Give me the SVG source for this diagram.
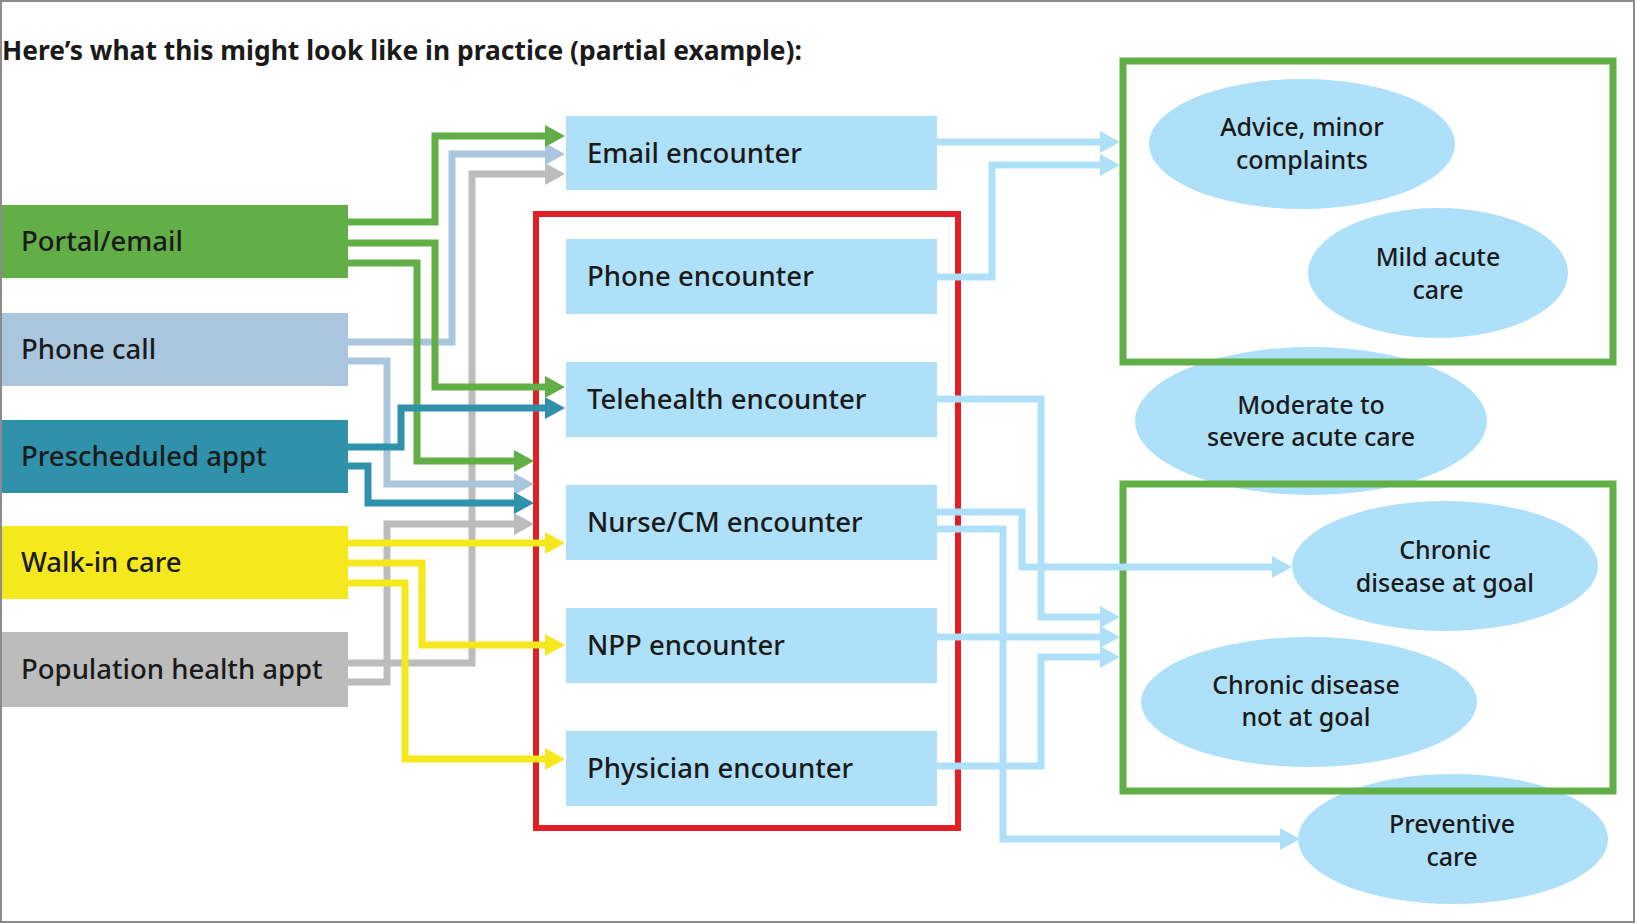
<svg xmlns="http://www.w3.org/2000/svg" width="1637" height="924" viewBox="0 0 1637 924">
<style>
  .t { font-family: "Noto Sans", "Liberation Sans", sans-serif; fill: #1a1a1a; font-weight: 500; }
  .title { font-size: 26px; font-weight: 700; }
  .lbl { font-size: 27.5px; }
  .ell { font-size: 25px; text-anchor: middle; }
  .c { fill: none; stroke-width: 7; stroke-linejoin: miter; }
  .mid { fill: #aee1f9; }
</style>
<defs>
  <marker id="aG" markerUnits="userSpaceOnUse" markerWidth="22" markerHeight="24" refX="2" refY="11" orient="auto"><path d="M0,0 L20,11 L0,22 z" fill="#62ae47"/></marker>
  <marker id="aB" markerUnits="userSpaceOnUse" markerWidth="22" markerHeight="24" refX="2" refY="11" orient="auto"><path d="M0,0 L20,11 L0,22 z" fill="#a9c6de"/></marker>
  <marker id="aT" markerUnits="userSpaceOnUse" markerWidth="22" markerHeight="24" refX="2" refY="11" orient="auto"><path d="M0,0 L20,11 L0,22 z" fill="#2f91aa"/></marker>
  <marker id="aY" markerUnits="userSpaceOnUse" markerWidth="22" markerHeight="24" refX="2" refY="11" orient="auto"><path d="M0,0 L20,11 L0,22 z" fill="#f5e81c"/></marker>
  <marker id="aR" markerUnits="userSpaceOnUse" markerWidth="22" markerHeight="24" refX="2" refY="11" orient="auto"><path d="M0,0 L20,11 L0,22 z" fill="#bdbcbd"/></marker>
  <marker id="aL" markerUnits="userSpaceOnUse" markerWidth="22" markerHeight="24" refX="2" refY="11" orient="auto"><path d="M0,0 L20,11 L0,22 z" fill="#aee1f9"/></marker>
</defs>
<rect x="0" y="0" width="1637" height="924" fill="#ffffff"/>
<rect x="1" y="1" width="1633" height="921" fill="none" stroke="#8c8c8c" stroke-width="2"/>

<text class="t title" x="2" y="60" textLength="800" lengthAdjust="spacingAndGlyphs">Here’s what this might look like in practice (partial example):</text>

<!-- outcome ellipses -->
<g id="advice"><ellipse cx="1302" cy="144" rx="153" ry="65" class="mid"/><text class="t ell" x="1302" y="136">Advice, minor</text><text class="t ell" x="1302" y="169">complaints</text></g>
<g id="mild"><ellipse cx="1438" cy="273" rx="130" ry="65" class="mid"/><text class="t ell" x="1438" y="266">Mild acute</text><text class="t ell" x="1438" y="299">care</text></g>
<g id="moderate"><ellipse cx="1311" cy="421" rx="176" ry="74" class="mid"/><text class="t ell" x="1311" y="414">Moderate to</text><text class="t ell" x="1311" y="446">severe acute care</text></g>
<g id="chronic-goal"><ellipse cx="1445" cy="566" rx="153" ry="65" class="mid"/><text class="t ell" x="1445" y="559">Chronic</text><text class="t ell" x="1445" y="592">disease at goal</text></g>
<g id="chronic-notgoal"><ellipse cx="1309" cy="702" rx="168" ry="65" class="mid"/><text class="t ell" x="1306" y="694">Chronic disease</text><text class="t ell" x="1306" y="726">not at goal</text></g>
<g id="preventive"><ellipse cx="1453" cy="839" rx="155" ry="65" class="mid"/><text class="t ell" x="1452" y="833">Preventive</text><text class="t ell" x="1452" y="866">care</text></g>

<!-- grouping boxes -->
<g id="group-acute"><rect x="1123" y="61" width="490" height="301" fill="none" stroke="#62ae47" stroke-width="7"/></g>
<g id="group-chronic"><rect x="1123" y="484" width="490" height="307" fill="none" stroke="#62ae47" stroke-width="7"/></g>
<g id="group-team"><rect x="536" y="214" width="422" height="614" fill="none" stroke="#e21f26" stroke-width="6"/></g>

<!-- source nodes -->
<g id="portal"><rect x="2" y="205" width="346" height="73" fill="#62ae47"/><text class="t lbl" x="21" y="251">Portal/email</text></g>
<g id="phonecall"><rect x="2" y="313" width="346" height="73" fill="#a9c6de"/><text class="t lbl" x="21" y="359">Phone call</text></g>
<g id="prescheduled"><rect x="2" y="420" width="346" height="73" fill="#2f91aa"/><text class="t lbl" x="21" y="466">Prescheduled appt</text></g>
<g id="walkin"><rect x="2" y="526" width="346" height="73" fill="#f5e81c"/><text class="t lbl" x="21" y="572">Walk-in care</text></g>
<g id="population"><rect x="2" y="632" width="346" height="75" fill="#bdbcbd"/><text class="t lbl" x="21" y="679">Population health appt</text></g>

<!-- encounter nodes -->
<g id="email-enc"><rect x="566" y="116" width="371" height="74" class="mid"/><text class="t lbl" x="587" y="163">Email encounter</text></g>
<g id="phone-enc"><rect x="566" y="239" width="371" height="75" class="mid"/><text class="t lbl" x="587" y="286">Phone encounter</text></g>
<g id="tele-enc"><rect x="566" y="362" width="371" height="75" class="mid"/><text class="t lbl" x="587" y="409">Telehealth encounter</text></g>
<g id="nurse-enc"><rect x="566" y="485" width="371" height="75" class="mid"/><text class="t lbl" x="587" y="532">Nurse/CM encounter</text></g>
<g id="npp-enc"><rect x="566" y="608" width="371" height="75" class="mid"/><text class="t lbl" x="587" y="655">NPP encounter</text></g>
<g id="phys-enc"><rect x="566" y="731" width="371" height="75" class="mid"/><text class="t lbl" x="587" y="778">Physician encounter</text></g>

<!-- connectors -->
<g id="connectors">
  <path class="c" stroke="#bdbcbd" d="M348,663 H472 V174 H547" marker-end="url(#aR)"/>
  <path class="c" stroke="#bdbcbd" d="M348,682 H387 V524 H516" marker-end="url(#aR)"/>
  <path class="c" stroke="#a9c6de" d="M348,342 H452 V154 H547" marker-end="url(#aB)"/>
  <path class="c" stroke="#a9c6de" d="M348,361 H387 V484 H516" marker-end="url(#aB)"/>
  <path class="c" stroke="#62ae47" d="M348,222 H435 V136 H547" marker-end="url(#aG)"/>
  <path class="c" stroke="#62ae47" d="M348,243 H435 V387 H547" marker-end="url(#aG)"/>
  <path class="c" stroke="#62ae47" d="M348,263 H417 V461 H516" marker-end="url(#aG)"/>
  <path class="c" stroke="#2f91aa" d="M348,447 H401 V408 H547" marker-end="url(#aT)"/>
  <path class="c" stroke="#2f91aa" d="M348,466 H368 V503 H516" marker-end="url(#aT)"/>
  <path class="c" stroke="#f5e81c" d="M348,543 H547" marker-end="url(#aY)"/>
  <path class="c" stroke="#f5e81c" d="M348,563 H422 V645 H547" marker-end="url(#aY)"/>
  <path class="c" stroke="#f5e81c" d="M348,583 H405 V759 H547" marker-end="url(#aY)"/>

  <path class="c" stroke="#aee1f9" d="M937,142 H1102" marker-end="url(#aL)"/>
  <path class="c" stroke="#aee1f9" d="M937,277 H992 V165 H1102" marker-end="url(#aL)"/>
  <path class="c" stroke="#aee1f9" d="M937,399 H1041 V617 H1102" marker-end="url(#aL)"/>
  <path class="c" stroke="#aee1f9" d="M937,512 H1022 V567 H1274" marker-end="url(#aL)"/>
  <path class="c" stroke="#aee1f9" d="M937,529 H1003 V839 H1282" marker-end="url(#aL)"/>
  <path class="c" stroke="#aee1f9" d="M937,637 H1102" marker-end="url(#aL)"/>
  <path class="c" stroke="#aee1f9" d="M937,766 H1041 V657 H1102" marker-end="url(#aL)"/>
</g>
</svg>
